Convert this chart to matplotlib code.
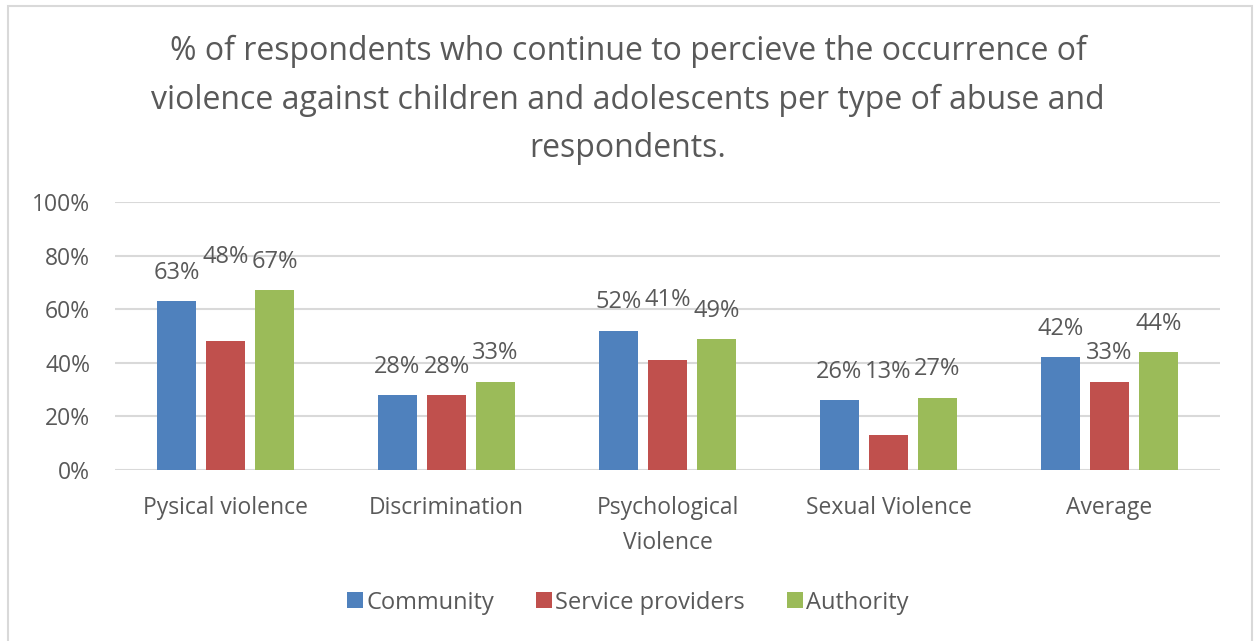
import matplotlib
matplotlib.use('Agg')
import matplotlib.pyplot as plt
import numpy as np
from matplotlib.patches import Rectangle

categories = ['Pysical violence', 'Discrimination', 'Psychological\nViolence',
              'Sexual Violence', 'Average']
series = ['Community', 'Service providers', 'Authority']
community = [63, 28, 52, 26, 42]
service = [48, 28, 41, 13, 33]
authority = [67, 33, 49, 27, 44]
colors = ['#4F81BD', '#C0504D', '#9BBB59']
text_col = '#595959'

# labels that excel pushed upward to avoid overlap: (series, category) -> extra lift
lifts = {(1, 0): 21, (1, 2): 12, (1, 3): 13}

plt.rcParams['font.family'] = ['Open Sans', 'DejaVu Sans']

fig = plt.figure(figsize=(12.56, 6.41), dpi=100)
fig.patches.append(Rectangle((0.006, -0.02), 0.991, 1.01, transform=fig.transFigure,
                             fill=False, edgecolor='#D9D9D9', linewidth=1.5))
ax = fig.add_axes([0.0916, 0.2668, 0.8797, 0.4181])

x = np.arange(len(categories))
width = 0.176
step = 0.222
for i, (vals, name) in enumerate(zip([community, service, authority], series)):
    pos = x + (i - 1) * step
    ax.bar(pos, vals, width, color=colors[i], label=name, zorder=3)
    for j, (p, v) in enumerate(zip(pos, vals)):
        ax.text(p, v + 10.5 + lifts.get((i, j), 0), f'{v}%', ha='center', va='center',
                fontsize=17, color=text_col)

ax.set_xlim(-0.5, len(categories) - 0.5)
ax.set_ylim(0, 100)
ax.set_yticks(range(0, 101, 20))
ax.set_yticklabels([f'{t}%' for t in range(0, 101, 20)])
ax.set_xticks(x)
ax.set_xticklabels(categories, linespacing=1.6)
ax.tick_params(axis='both', length=0, labelsize=16.5, labelcolor=text_col)
ax.tick_params(axis='y', pad=18)
ax.tick_params(axis='x', pad=19)
ax.grid(axis='y', color='#D9D9D9', linewidth=1.5, zorder=0)
for s in ax.spines.values():
    s.set_visible(False)

fig.text(0.5, 0.945, '% of respondents who continue to percieve the occurrence of\n'
         'violence against children and adolescents per type of abuse and\nrespondents.',
         ha='center', va='top', fontsize=23, color=text_col, linespacing=1.6)

ax.legend(loc='center', bbox_to_anchor=(0.5, 0.06), bbox_transform=fig.transFigure,
          ncol=3, frameon=False, fontsize=17, handlelength=0.65, handleheight=0.65,
          handletextpad=0.15, columnspacing=1.8, labelcolor=text_col)

fig.savefig('out.png', dpi=100)
